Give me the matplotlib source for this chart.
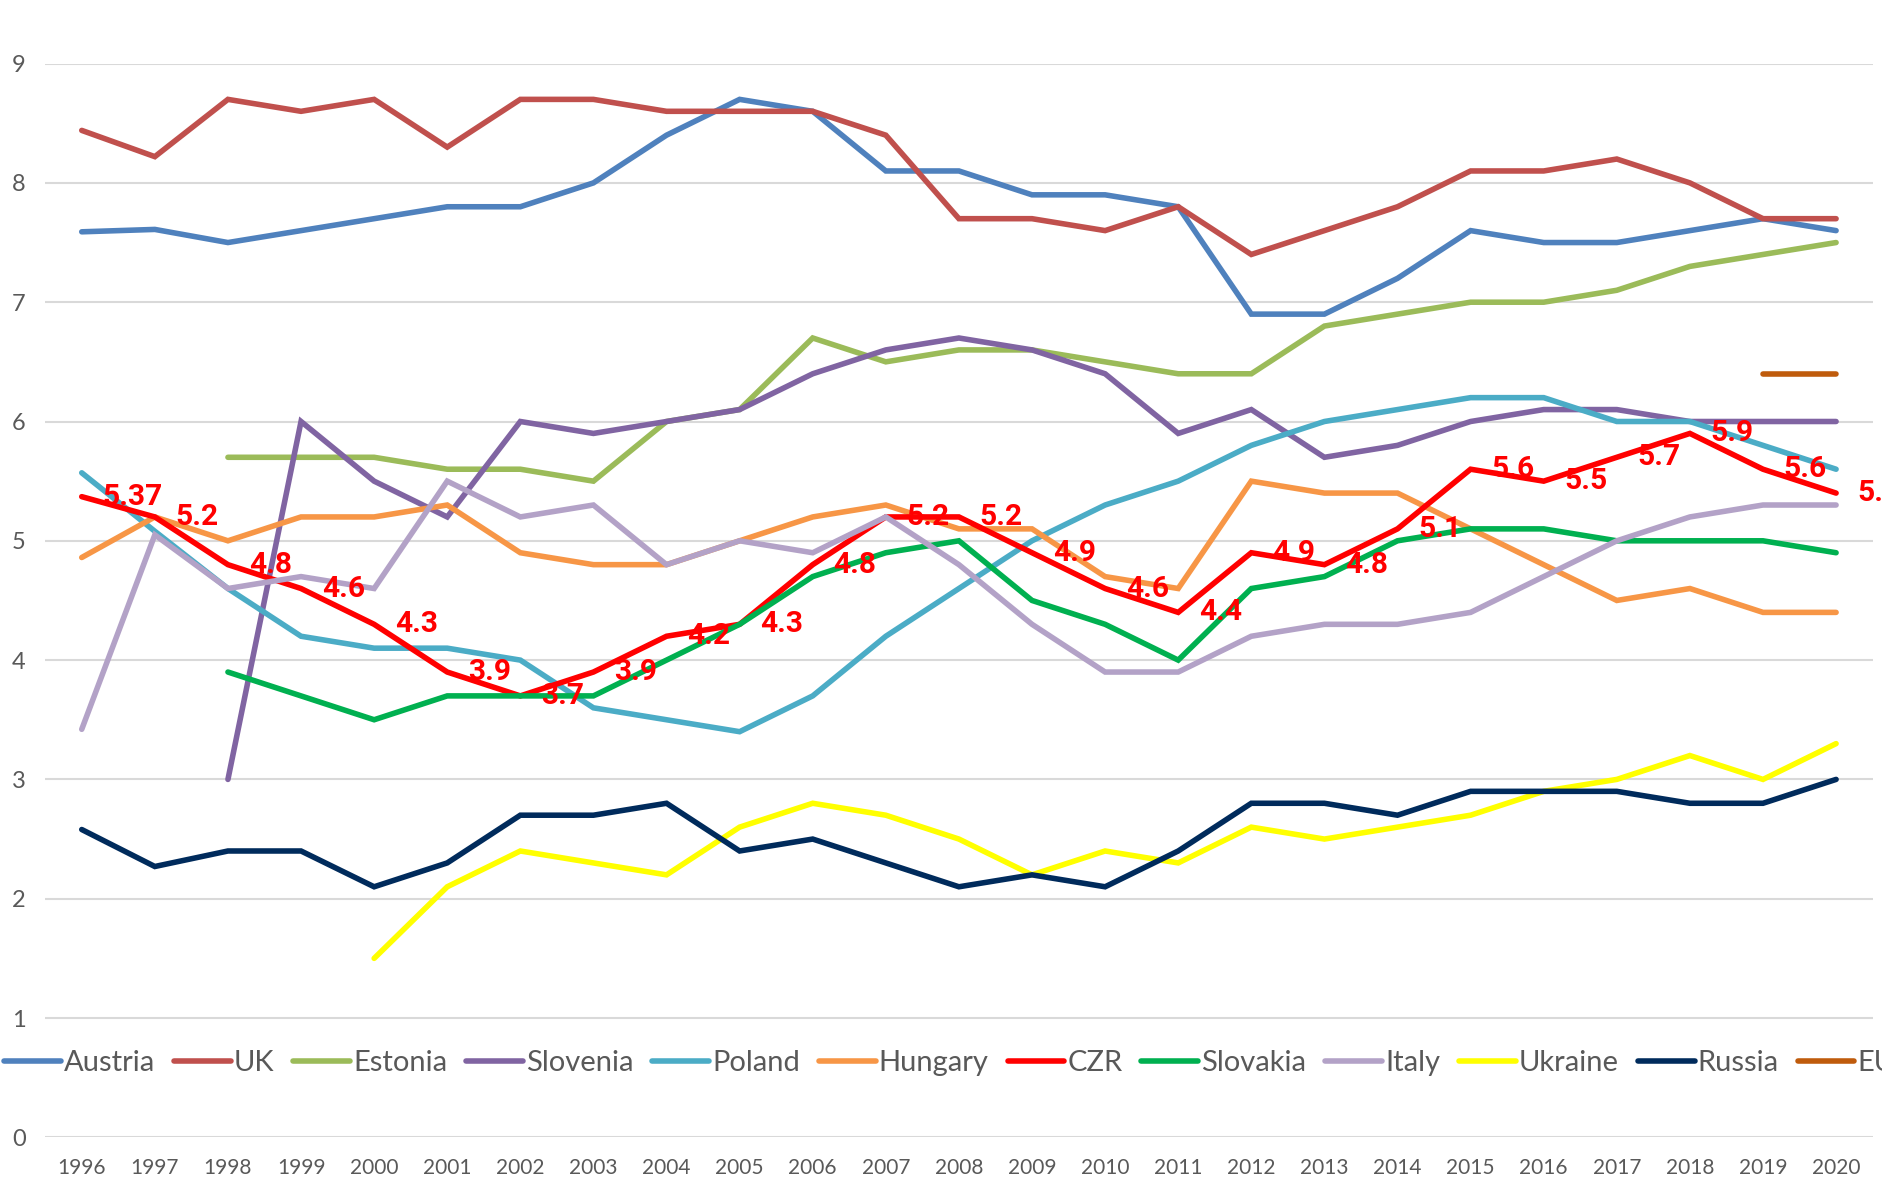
import numpy as np
import matplotlib
matplotlib.use("Agg")
import matplotlib.pyplot as plt

nan = np.nan
years = [str(y) for y in range(1996, 2021)]

austria = [7.59, 7.61, 7.5, 7.6, 7.7, 7.8, 7.8, 8.0, 8.4, 8.7, 8.6, 8.1, 8.1, 7.9, 7.9, 7.8, 6.9, 6.9, 7.2, 7.6, 7.5, 7.5, 7.6, 7.7, 7.6]
uk = [8.44, 8.22, 8.7, 8.6, 8.7, 8.3, 8.7, 8.7, 8.6, 8.6, 8.6, 8.4, 7.7, 7.7, 7.6, 7.8, 7.4, 7.6, 7.8, 8.1, 8.1, 8.2, 8.0, 7.7, 7.7]
estonia = [nan, nan, 5.7, 5.7, 5.7, 5.6, 5.6, 5.5, 6.0, 6.1, 6.7, 6.5, 6.6, 6.6, 6.5, 6.4, 6.4, 6.8, 6.9, 7.0, 7.0, 7.1, 7.3, 7.4, 7.5]
slovenia = [nan, nan, 3.0, 6.0, 5.5, 5.2, 6.0, 5.9, 6.0, 6.1, 6.4, 6.6, 6.7, 6.6, 6.4, 5.9, 6.1, 5.7, 5.8, 6.0, 6.1, 6.1, 6.0, 6.0, 6.0]
poland = [5.57, 5.08, 4.6, 4.2, 4.1, 4.1, 4.0, 3.6, 3.5, 3.4, 3.7, 4.2, 4.6, 5.0, 5.3, 5.5, 5.8, 6.0, 6.1, 6.2, 6.2, 6.0, 6.0, 5.8, 5.6]
hungary = [4.86, 5.2, 5.0, 5.2, 5.2, 5.3, 4.9, 4.8, 4.8, 5.0, 5.2, 5.3, 5.1, 5.1, 4.7, 4.6, 5.5, 5.4, 5.4, 5.1, 4.8, 4.5, 4.6, 4.4, 4.4]
czr = [5.37, 5.2, 4.8, 4.6, 4.3, 3.9, 3.7, 3.9, 4.2, 4.3, 4.8, 5.2, 5.2, 4.9, 4.6, 4.4, 4.9, 4.8, 5.1, 5.6, 5.5, 5.7, 5.9, 5.6, 5.4]
slovakia = [nan, nan, 3.9, 3.7, 3.5, 3.7, 3.7, 3.7, 4.0, 4.3, 4.7, 4.9, 5.0, 4.5, 4.3, 4.0, 4.6, 4.7, 5.0, 5.1, 5.1, 5.0, 5.0, 5.0, 4.9]
italy = [3.42, 5.05, 4.6, 4.7, 4.6, 5.5, 5.2, 5.3, 4.8, 5.0, 4.9, 5.2, 4.8, 4.3, 3.9, 3.9, 4.2, 4.3, 4.3, 4.4, 4.7, 5.0, 5.2, 5.3, 5.3]
ukraine = [nan, nan, nan, nan, 1.5, 2.1, 2.4, 2.3, 2.2, 2.6, 2.8, 2.7, 2.5, 2.2, 2.4, 2.3, 2.6, 2.5, 2.6, 2.7, 2.9, 3.0, 3.2, 3.0, 3.3]
russia = [2.58, 2.27, 2.4, 2.4, 2.1, 2.3, 2.7, 2.7, 2.8, 2.4, 2.5, 2.3, 2.1, 2.2, 2.1, 2.4, 2.8, 2.8, 2.7, 2.9, 2.9, 2.9, 2.8, 2.8, 3.0]
eu = [nan] * 23 + [6.4, 6.4]

czr_labels = ["5.37", "5.2", "4.8", "4.6", "4.3", "3.9", "3.7", "3.9", "4.2", "4.3", "4.8", "5.2", "5.2",
              "4.9", "4.6", "4.4", "4.9", "4.8", "5.1", "5.6", "5.5", "5.7", "5.9", "5.6", "5.4"]

series_names = ["Austria", "UK", "Estonia", "Slovenia", "Poland", "Hungary", "CZR", "Slovakia", "Italy", "Ukraine", "Russia", "EU"]
series_values = [austria, uk, estonia, slovenia, poland, hungary, czr, slovakia, italy, ukraine, russia, eu]
series_colors = ["#4F81BD", "#C0504D", "#9BBB59", "#8064A2", "#4BACC6", "#F79646", "#FF0000", "#00B050",
                 "#B3A2C7", "#FFFF00", "#002B5C", "#BF5B0C"]

plt.rcParams['font.family'] = ['Lato', 'DejaVu Sans']

fig = plt.figure(figsize=(18.83, 11.82), dpi=100)
ax = fig.add_axes([0.024, 0.0378, 0.9705, 0.9084])

x = np.arange(len(years))
handles = []
for name, vals, col in zip(series_names, series_values, series_colors):
    h, = ax.plot(x, vals, color=col, lw=4, label=name, solid_capstyle='round', solid_joinstyle='miter', zorder=3)
    handles.append(h)

for xi, v, lab in zip(x, czr, czr_labels):
    ax.annotate(lab, (xi, v), xytext=(15, 0), textcoords='offset points', ha='left', va='center',
                color='#FF0000', fontsize=21.5, fontweight='bold', family=['Roboto', 'DejaVu Sans'],
                zorder=10, annotation_clip=False)

ax.set_xlim(-0.5, len(years) - 0.5)
ax.set_ylim(0, 9)
ax.set_yticks(range(0, 10))
ax.set_xticks(x)
ax.set_xticklabels(years)
ax.grid(axis='y', color='#D9D9D9', lw=1.5, zorder=0)
ax.set_axisbelow(True)
for s in ax.spines.values():
    s.set_visible(False)
ax.tick_params(axis='both', length=0, colors='#595959')
ax.tick_params(axis='x', labelsize=15, pad=15)
ax.tick_params(axis='y', labelsize=17, pad=14)

fig.legend(handles=handles, labels=series_names, loc='center left', bbox_to_anchor=(0.002, 0.1007),
           ncol=12, frameon=False, fontsize=21, handlelength=1.95, handletextpad=0.1, columnspacing=0.65,
           labelcolor='#595959', borderaxespad=0, borderpad=0)

fig.savefig("out.png", dpi=100)
